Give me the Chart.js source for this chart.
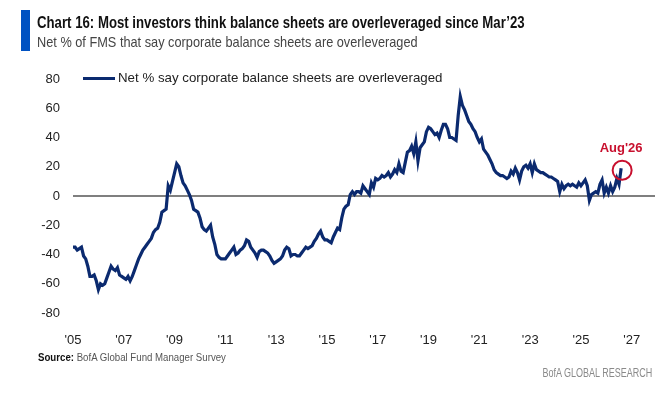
<!DOCTYPE html>
<html>
<head>
<meta charset="utf-8">
<script src="https://cdn.jsdelivr.net/npm/chart.js@4"></script>
<style>
  body { margin: 0; background: #fff; font-family: "Liberation Sans", Arial, sans-serif; }
  #wrap { position: relative; width: 663px; height: 400px; overflow: hidden; }
  #grafico { position: absolute; left: 0; top: 0; }
  .barra { position: absolute; left: 21px; top: 10px; width: 9px; height: 41px; background: #0052C2; }
  .titulo { position: absolute; left: 37px; top: 13px; font-weight: bold; font-size: 16.5px; line-height: 19px; color: #111; white-space: nowrap; transform: scaleX(0.8); transform-origin: left center; }
  .subtitulo { position: absolute; left: 37px; top: 33px; font-size: 15px; line-height: 17px; color: #444; white-space: nowrap; transform: scaleX(0.85); transform-origin: left center; }
  .legenda { position: absolute; left: 83px; top: 70px; white-space: nowrap; font-size: 13.3px; color: #222; }
  .legenda span.linha { display: inline-block; width: 32px; height: 3px; background: #0B2A6F; vertical-align: middle; margin-right: 3px; }
  .fonte { position: absolute; left: 38px; top: 351px; font-size: 11.5px; color: #555; white-space: nowrap; transform: scaleX(0.84); transform-origin: left center; }
  .fonte b { color: #111; }
  .marca { position: absolute; right: 11px; top: 366px; font-size: 12px; color: #8a8a8a; white-space: nowrap; transform: scaleX(0.75); transform-origin: right center; }
</style>
</head>
<body>
<div id="wrap">
  <canvas id="grafico" width="663" height="400"></canvas>
  <div class="barra"></div>
  <div class="titulo">Chart 16: Most investors think balance sheets are overleveraged since Mar’23</div>
  <div class="subtitulo">Net % of FMS that say corporate balance sheets are overleveraged</div>
  <div class="legenda"><span class="linha"></span>Net % say corporate balance sheets are overleveraged</div>
  <div class="fonte"><b>Source:</b> BofA Global Fund Manager Survey</div>
  <div class="marca">BofA GLOBAL RESEARCH</div>
</div>
<script>
// Série mensal, Jan 2005 até Aug 2026
const anoInicio = 2005;
const anoFimEixo = 2027;
const serieNome = 'Net % say corporate balance sheets are overleveraged';
const netPct = [
  // 2005
  -35, -35, -37, -36, -35, -41, -43, -48, -55, -55, -54, -58,
  // 2006
  -64, -60, -61, -60, -56, -52, -48, -50, -51, -49, -54, -55,
  // 2007
  -56, -57, -55, -58, -55, -51, -47, -43, -40, -37, -35, -33,
  // 2008
  -31, -29, -25, -23, -22, -18, -11, -10, -9, 7, 4, 10,
  // 2009
  16, 22, 20, 14, 9, 7, 4, 1, -3, -9, -10, -11,
  // 2010
  -15, -21, -23, -24, -22, -20, -28, -33, -40, -42, -43, -43,
  // 2011
  -43, -41, -39, -37, -35, -40, -39, -37, -36, -34, -30, -31,
  // 2012
  -35, -37, -39, -42, -38, -37, -37, -38, -39, -41, -44, -46,
  // 2013
  -45, -44, -43, -41, -37, -35, -36, -41, -40, -40, -41, -41,
  // 2014
  -39, -37, -35, -36, -35, -34, -31, -29, -26, -24, -28, -30,
  // 2015
  -30, -31, -32, -28, -25, -22, -23, -15, -9, -7, -6, 1,
  // 2016
  3, 1, 3, 3, 2, 7, 5, 3, 1, 9, 6, 12,
  // 2017
  11, 12, 14, 13, 14, 16, 13, 15, 18, 16, 22, 17,
  // 2018
  16, 23, 30, 31, 34, 29, 37, 24, 33, 35, 37, 44,
  // 2019
  47, 46, 44, 42, 43, 40, 45, 49, 49, 46, 40, 40,
  // 2020
  39, 38, 55, 68, 62, 59, 55, 51, 49, 46, 44, 40,
  // 2021
  37, 39, 32, 30, 28, 25, 22, 18, 16, 15, 14, 14,
  // 2022
  13, 12, 13, 17, 15, 19, 16, 11, 17, 20, 21, 19,
  // 2023
  22, 16, 22, 18, 17, 16, 16, 15, 14, 13, 13, 12,
  // 2024
  11, 10, 3, 8, 5, 7, 8, 7, 8, 7, 6, 9,
  // 2025
  7, 9, 11, 7, -3, 1, 2, 3, 2, 8, 11, 2,
  // 2026 (até Aug)
  6, 2, 7, 3, 6, 12, 8, 19
];
const rotuloDestaque = "Aug'26";
const ticksY = [-80, -60, -40, -20, 0, 20, 40, 60, 80];

// categorias mensais (eixo vai até o fim de 2027)
const meses = [];
for (let a = anoInicio; a <= anoFimEixo; a++) {
  for (let m = 0; m < 12; m++) meses.push(a + '-' + (m + 1));
}
const dadosLinha = meses.map((_, i) => i < netPct.length ? netPct[i] : null);

// círculo + rótulo no último ponto
const destaquePlugin = {
  id: 'destaque',
  afterDatasetsDraw(chart) {
    const meta = chart.getDatasetMeta(0);
    const p = meta.data[netPct.length - 1];
    const ctx = chart.ctx;
    ctx.save();
    ctx.strokeStyle = '#C8102E';
    ctx.lineWidth = 2;
    ctx.beginPath();
    ctx.arc(p.x + 1, p.y + 2, 9.5, 0, Math.PI * 2);
    ctx.stroke();
    ctx.fillStyle = '#C8102E';
    ctx.font = 'bold 13px "Liberation Sans", Arial, sans-serif';
    ctx.textAlign = 'center';
    ctx.textBaseline = 'middle';
    ctx.fillText(rotuloDestaque, p.x, p.y - 20);
    ctx.restore();
  }
};

document.addEventListener('DOMContentLoaded', () => {
  const ctx = document.getElementById('grafico').getContext('2d');
  new Chart(ctx, {
    type: 'line',
    data: {
      labels: meses,
      datasets: [{
        label: serieNome,
        data: dadosLinha,
        borderColor: '#0B2A6F',
        borderWidth: 3.2,
        pointRadius: 0,
        tension: 0,
        spanGaps: false
      }]
    },
    options: {
      responsive: false,
      animation: false,
      layout: { padding: { top: 79, right: 8, bottom: 50, left: 0 } },
      plugins: { legend: { display: false }, tooltip: { enabled: false } },
      scales: {
        x: {
          offset: false,
          grid: { display: false },
          border: { display: false },
          afterFit: (s) => { s.height = 37; },
          ticks: {
            autoSkip: false,
            maxRotation: 0,
            padding: 12,
            color: '#222',
            font: { size: 13, family: '"Liberation Sans", Arial, sans-serif' },
            callback: function (val, i) {
              const [a, m] = meses[i].split('-').map(Number);
              if (m === 1 && a % 2 === 1) return "'" + String(a).slice(2);
              return null;
            }
          }
        },
        y: {
          min: -80,
          max: 80,
          afterFit: (s) => { s.width = 73; },
          afterBuildTicks: (s) => { s.ticks = ticksY.map(v => ({ value: v })); },
          border: { display: false },
          grid: {
            drawTicks: false,
            color: (c) => c.tick && c.tick.value === 0 ? '#7f7f7f' : 'rgba(0,0,0,0)',
            lineWidth: 2
          },
          ticks: {
            padding: 13,
            color: '#222',
            font: { size: 13, family: '"Liberation Sans", Arial, sans-serif' }
          }
        }
      }
    },
    plugins: [destaquePlugin]
  });
});
</script>
</body>
</html>
